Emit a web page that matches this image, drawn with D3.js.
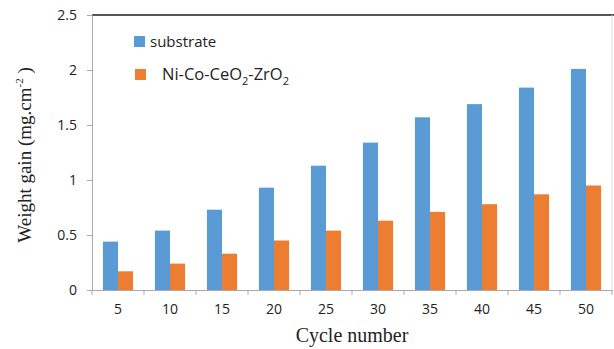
<!DOCTYPE html>
<html lang="en">
<head>
    <meta charset="UTF-8">
    <title>Weight gain vs cycle number</title>
    <script src="https://d3js.org/d3.v7.min.js"></script>
    <style>
        body { margin: 0; background: #fff; }
        .tick text { font-family: "Open Sans", "Liberation Sans", sans-serif; font-size: 14px; fill: #222; }
        .legend-text { font-family: "Open Sans", "Liberation Sans", sans-serif; fill: #222; }
        .axis-title { font-family: "Liberation Serif", "DejaVu Serif", serif; fill: #222; }
    </style>
</head>
<body>
    <svg width="614" height="349"></svg>

    <script>
        const cycles = ["5", "10", "15", "20", "25", "30", "35", "40", "45", "50"];
        const substrate = [0.44, 0.54, 0.73, 0.93, 1.13, 1.34, 1.57, 1.69, 1.84, 2.01];
        const coating = [0.17, 0.24, 0.33, 0.45, 0.54, 0.63, 0.71, 0.78, 0.87, 0.95];
        const yTicks = [0, 0.5, 1, 1.5, 2, 2.5];
        const seriesNames = ["substrate", "coating"];
        const colors = ["#5B9BD5", "#ED7D31"];

        const margin = {top: 15, right: 2, bottom: 59, left: 92},
              width = 614 - margin.left - margin.right,
              height = 349 - margin.top - margin.bottom;

        const svg = d3.select("svg")
            .append("g")
            .attr("transform", `translate(${margin.left},${margin.top})`);

        const x = d3.scaleBand()
            .domain(cycles)
            .range([0, width])
            .paddingInner(0.42)
            .paddingOuter(0.21);

        const x1 = d3.scaleBand()
            .domain(seriesNames)
            .range([0, x.bandwidth()]);

        const y = d3.scaleLinear()
            .domain([0, 2.5])
            .range([height, 0]);

        // frame: dark top line, light right line
        svg.append("line")
            .attr("x1", 0).attr("x2", width + margin.right)
            .attr("y1", 0).attr("y2", 0)
            .attr("stroke", "#555").attr("stroke-width", 2);
        svg.append("line")
            .attr("x1", width).attr("x2", width)
            .attr("y1", 0).attr("y2", height)
            .attr("stroke", "#ddd").attr("stroke-width", 1);

        // y axis
        const yAxis = svg.append("g")
            .call(d3.axisLeft(y).tickValues(yTicks).tickFormat(d3.format("")).tickSize(5).tickPadding(10));
        yAxis.select(".domain").attr("stroke", "#aaa");
        yAxis.selectAll(".tick line").attr("stroke", "#aaa");

        // x axis with ticks between categories
        const xAxis = svg.append("g")
            .attr("transform", `translate(0,${height})`)
            .call(d3.axisBottom(x).tickSize(0).tickPadding(14));
        xAxis.select(".domain").attr("stroke", "#aaa");
        const step = x.step();
        xAxis.selectAll(".sep")
            .data(d3.range(cycles.length + 1))
            .enter().append("line")
            .attr("class", "sep")
            .attr("x1", i => i * step).attr("x2", i => i * step)
            .attr("y1", 0).attr("y2", 5)
            .attr("stroke", "#aaa");

        // bars
        const groups = svg.selectAll(".grp")
            .data(cycles)
            .enter().append("g")
            .attr("class", "grp")
            .attr("transform", d => `translate(${x(d)},0)`);

        groups.append("rect")
            .attr("x", x1("substrate"))
            .attr("width", x1.bandwidth())
            .attr("y", (d, i) => y(substrate[i]))
            .attr("height", (d, i) => height - y(substrate[i]))
            .attr("fill", colors[0]);

        groups.append("rect")
            .attr("x", x1("coating"))
            .attr("width", x1.bandwidth())
            .attr("y", (d, i) => y(coating[i]))
            .attr("height", (d, i) => height - y(coating[i]))
            .attr("fill", colors[1]);

        // legend
        const root = d3.select("svg");
        root.append("rect").attr("x", 134).attr("y", 36).attr("width", 11).attr("height", 11).attr("fill", colors[0]);
        root.append("text").attr("class", "legend-text").attr("font-size", "15px")
            .attr("x", 150).attr("y", 47).text("substrate");
        root.append("rect").attr("x", 135).attr("y", 69).attr("width", 11).attr("height", 11).attr("fill", colors[1]);
        const lt = root.append("text").attr("class", "legend-text").attr("font-size", "16.5px")
            .attr("x", 162).attr("y", 80);
        lt.append("tspan").text("Ni-Co-CeO");
        lt.append("tspan").attr("font-size", "11px").attr("dy", 5).text("2");
        lt.append("tspan").attr("dy", -5).text("-ZrO");
        lt.append("tspan").attr("font-size", "11px").attr("dy", 5).text("2");

        // axis titles
        root.append("text")
            .attr("class", "axis-title")
            .attr("x", 352).attr("y", 342)
            .attr("text-anchor", "middle")
            .attr("font-size", "20px")
            .text("Cycle number");

        const yt = root.append("text")
            .attr("class", "axis-title")
            .attr("transform", "translate(31,155) rotate(-90)")
            .attr("text-anchor", "middle")
            .attr("font-size", "19px");
        yt.append("tspan").text("Weight gain (mg.cm");
        yt.append("tspan").attr("font-size", "11px").attr("dy", -8).text("-2");
        yt.append("tspan").attr("dy", 8).text(" )");
    </script>
</body>
</html>
